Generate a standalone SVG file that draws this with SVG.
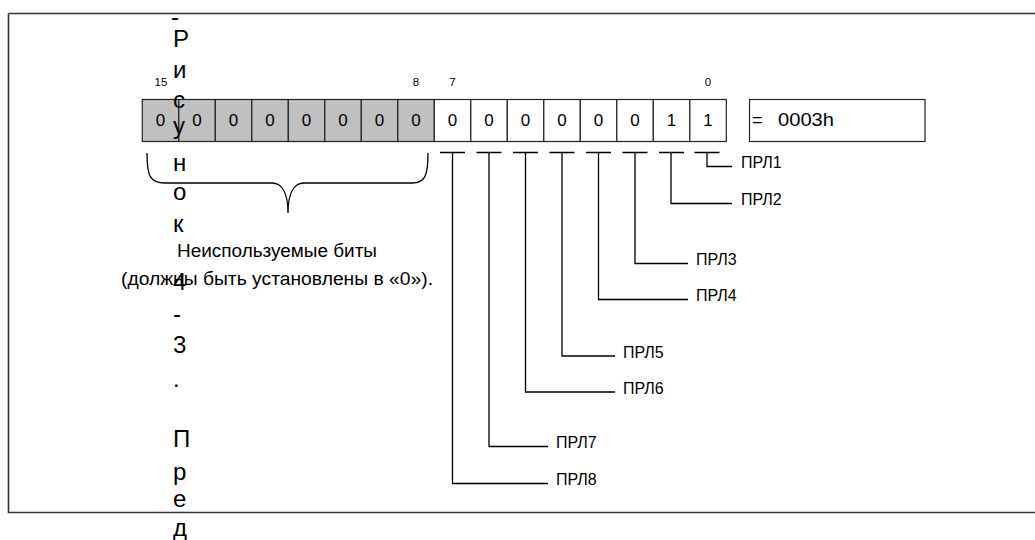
<svg xmlns="http://www.w3.org/2000/svg" width="1035" height="540" viewBox="0 0 1035 540">
<style>
text{font-family:"Liberation Sans",Arial,sans-serif;fill:#000}
.cell{stroke:#222;stroke-width:1.2}
.g{fill:#c0c0c0}
.w{fill:#fff}
.v{font-size:17px;text-anchor:middle}
.idx{font-size:11.5px;text-anchor:middle}
.lbl{font-size:16px}
.desc{font-size:18px;text-anchor:middle}
.val{font-size:18px}
.cap{font-size:24px}
.ln{fill:none;stroke:#000;stroke-width:1.3}
</style>
<rect x="0" y="0" width="1035" height="540" fill="#fff"/>
<g id="frame">
<path d="M8.5,13.5 H1040 M8.5,13.5 V512.5 H1040" fill="none" stroke="#333" stroke-width="1.6"/>
</g>
<g id="register">
<rect class="cell g" x="142.3" y="99.5" width="36.5" height="42"/>
<rect class="cell g" x="178.8" y="99.5" width="36.5" height="42"/>
<rect class="cell g" x="215.3" y="99.5" width="36.5" height="42"/>
<rect class="cell g" x="251.8" y="99.5" width="36.5" height="42"/>
<rect class="cell g" x="288.3" y="99.5" width="36.5" height="42"/>
<rect class="cell g" x="324.8" y="99.5" width="36.5" height="42"/>
<rect class="cell g" x="361.3" y="99.5" width="36.5" height="42"/>
<rect class="cell g" x="397.8" y="99.5" width="36.5" height="42"/>
<rect class="cell w" x="434.3" y="99.5" width="36.5" height="42"/>
<rect class="cell w" x="470.8" y="99.5" width="36.5" height="42"/>
<rect class="cell w" x="507.3" y="99.5" width="36.5" height="42"/>
<rect class="cell w" x="543.8" y="99.5" width="36.5" height="42"/>
<rect class="cell w" x="580.3" y="99.5" width="36.5" height="42"/>
<rect class="cell w" x="616.8" y="99.5" width="36.5" height="42"/>
<rect class="cell w" x="653.3" y="99.5" width="36.5" height="42"/>
<rect class="cell w" x="689.8" y="99.5" width="36.5" height="42"/>
<text class="v" x="160.5" y="126">0</text>
<text class="v" x="197" y="126">0</text>
<text class="v" x="233.5" y="126">0</text>
<text class="v" x="270" y="126">0</text>
<text class="v" x="306.5" y="126">0</text>
<text class="v" x="343" y="126">0</text>
<text class="v" x="379.5" y="126">0</text>
<text class="v" x="416" y="126">0</text>
<text class="v" x="452.5" y="126">0</text>
<text class="v" x="489" y="126">0</text>
<text class="v" x="525.5" y="126">0</text>
<text class="v" x="562" y="126">0</text>
<text class="v" x="598.5" y="126">0</text>
<text class="v" x="635" y="126">0</text>
<text class="v" x="671.5" y="126">1</text>
<text class="v" x="708" y="126">1</text>
<text class="idx" x="161" y="86">15</text>
<text class="idx" x="416" y="86">8</text>
<text class="idx" x="452.5" y="86">7</text>
<text class="idx" x="708" y="86">0</text>
</g>
<g id="value">
<rect class="cell w" x="749.5" y="99.5" width="175.5" height="42"/>
<text class="val" x="752" y="126">=</text>
<text class="val" x="778" y="126" textLength="56" lengthAdjust="spacingAndGlyphs">0003h</text>
</g>
<g id="unused">
<path class="ln" d="M147,153 C147,176 150,183 165,183 L272,183 C283,183 288,195 288,213 C288,195 293,183 304,183 L412,183 C425,183 428,176 428,153"/>
<text class="desc" x="277" y="257" textLength="200" lengthAdjust="spacingAndGlyphs">Неиспользуемые биты</text>
<text class="desc" x="277" y="285" textLength="312" lengthAdjust="spacingAndGlyphs">(должны быть установлены в «0»).</text>
</g>
<g id="connectors">
<path class="ln" d="M440,152.5 H465 M452.5,152.5 V483.5 H548"/>
<path class="ln" d="M476.5,152.5 H501.5 M489,152.5 V446.5 H548"/>
<path class="ln" d="M513,152.5 H538 M525.5,152.5 V392 H615"/>
<path class="ln" d="M549.5,152.5 H574.5 M562,152.5 V356 H615"/>
<path class="ln" d="M586,152.5 H611 M598.5,152.5 V299.5 H688"/>
<path class="ln" d="M622.5,152.5 H647.5 M635,152.5 V263.5 H688"/>
<path class="ln" d="M659,152.5 H684 M671,152.5 V203.5 H732"/>
<path class="ln" d="M694.5,152.5 H719.5 M707,152.5 V166.5 H732"/>
</g>
<g id="labels">
<text class="lbl" x="741" y="168">ПРЛ1</text>
<text class="lbl" x="741" y="205">ПРЛ2</text>
<text class="lbl" x="696" y="265">ПРЛ3</text>
<text class="lbl" x="696" y="301">ПРЛ4</text>
<text class="lbl" x="623" y="358">ПРЛ5</text>
<text class="lbl" x="623" y="394">ПРЛ6</text>
<text class="lbl" x="556" y="448">ПРЛ7</text>
<text class="lbl" x="556" y="485">ПРЛ8</text>
</g>
<g id="caption">
<text class="cap" x="171" y="25">-</text>
<text class="cap" x="173" y="47">Р</text>
<text class="cap" x="173" y="78">и</text>
<text class="cap" x="173" y="108">с</text>
<text class="cap" x="173" y="134">у</text>
<text class="cap" x="173" y="171">н</text>
<text class="cap" x="173" y="200">о</text>
<text class="cap" x="173" y="232">к</text>
<text class="cap" x="173" y="290">4</text>
<text class="cap" x="173" y="322">-</text>
<text class="cap" x="173" y="353">3</text>
<text class="cap" x="173" y="387">.</text>
<text class="cap" x="173" y="447">П</text>
<text class="cap" x="173" y="480">р</text>
<text class="cap" x="173" y="507">е</text>
<text class="cap" x="173" y="536">д</text>
</g>
</svg>
